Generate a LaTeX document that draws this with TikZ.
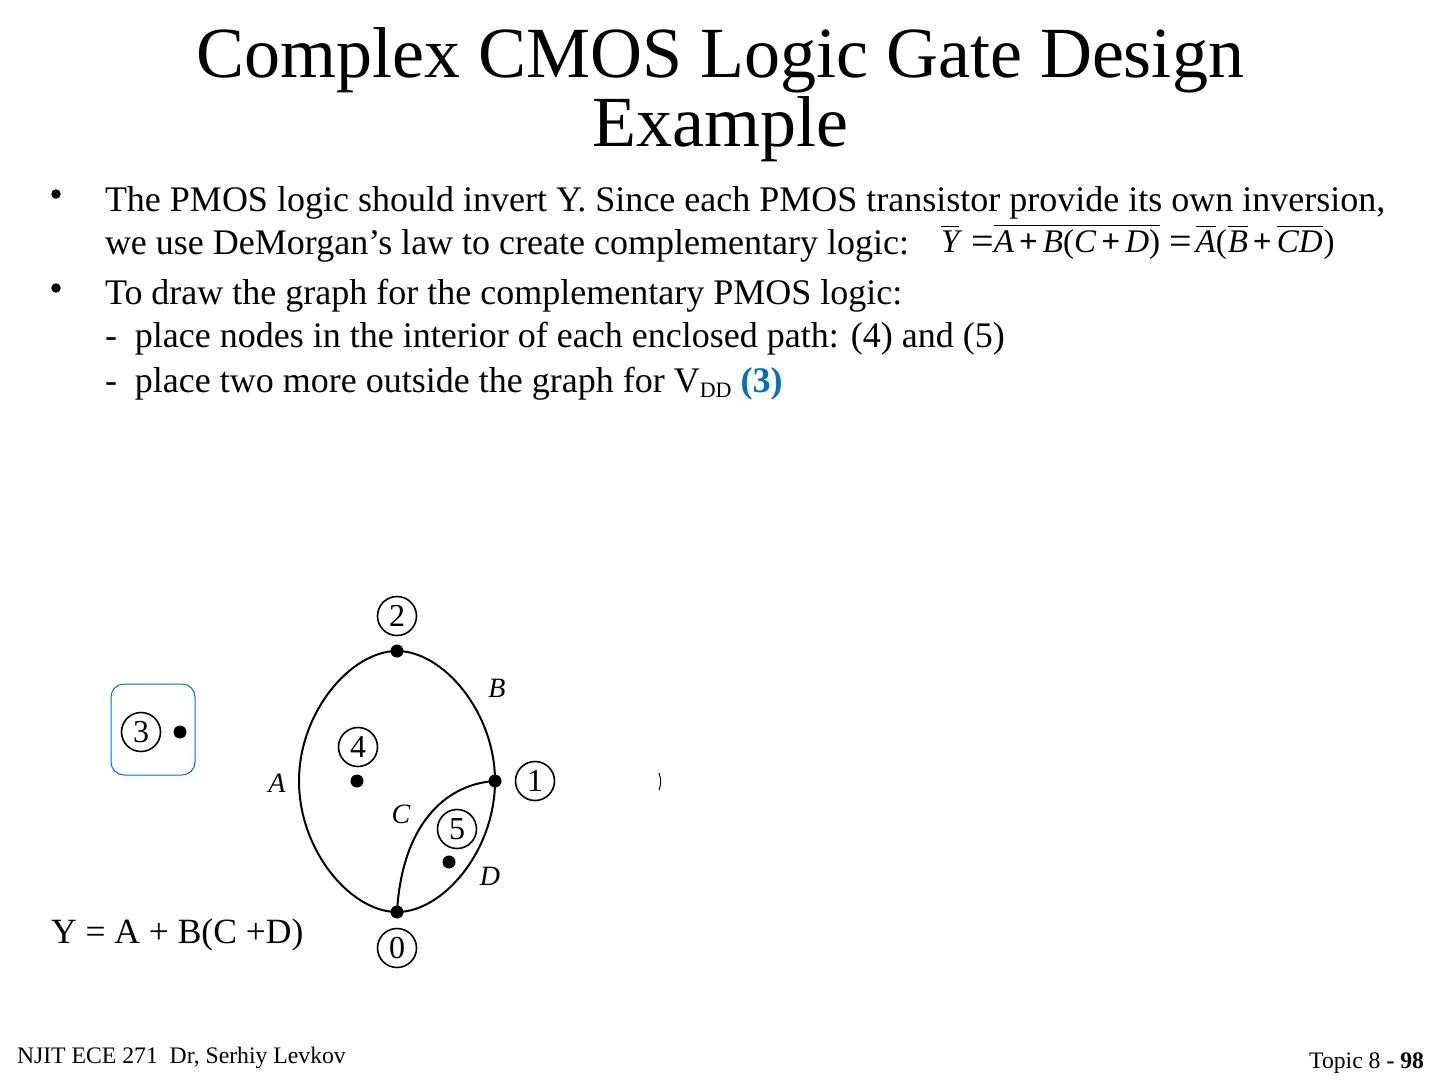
\documentclass[tikz,border=0pt]{standalone}
\usepackage{amsmath}
\usepackage{fontspec}
\setmainfont{Liberation Serif}
\definecolor{boxblue}{HTML}{0070C0}
\newcommand{\ibar}[1]{$\overline{\textit{#1}}$}
\newcommand{\bplus}{\hspace{5pt}\textbf{+}\hspace{5pt}}
\newcommand{\eqsign}{\raisebox{-2pt}{\fontsize{40}{40}\selectfont =}}
\begin{document}
\begin{tikzpicture}[x = 1pt, y = -1pt, line width = 2pt,
                    title/.style = {anchor = base, inner sep = 0pt, font = \fontsize{72}{72}\selectfont},
                    body/.style = {anchor = base west, inner sep = 0pt, font = \fontsize{36}{36}\selectfont},
                    foot/.style = {inner sep = 0pt, font = \fontsize{23.7}{23.7}\selectfont},
                    bullet/.style = {circle, fill = black, inner sep = 0pt, minimum size = 9.5pt},
                    dot/.style = {circle, fill = black, inner sep = 0pt, minimum size = 13pt},
                    num/.style = {circle, draw, inner sep = 0pt, minimum size = 39pt, line width = 1.6pt, font = \fontsize{32}{32}\selectfont},
                    branch/.style = {inner sep = 0pt, font = \fontsize{28}{28}\itshape\selectfont}]
\useasboundingbox (0,0) rectangle (1440,1080);

% title
\node[title] (title1) at (720,77) {Complex CMOS Logic Gate Design};
\node[title] (title2) at (720,146) {Example};

% bullets
\node[bullet] (b1) at (56,194) {};
\node[bullet] (b2) at (56,288) {};

% body text
\node[body] (line1) at (104,211) {The PMOS logic should invert Y. Since each PMOS transistor provide its own inversion,};
\node[body] (line2) at (104,254) {we use DeMorgan’s law to create complementary logic:};
\node[body] (line3) at (104,304) {To draw the graph for the complementary PMOS logic:};
\node[body] (line4) at (104,347) {-\ \ place nodes in the interior of each enclosed path: (4) and (5)};
\node[body] (line5) at (104,392) {-\ \ place two more outside the graph for V\raisebox{-5pt}{\fontsize{22}{22}\selectfont DD} \textcolor{boxblue}{\textbf{(3)}}};

% equation
\node[body, font = \fontsize{33}{33}\selectfont] (eqn) at (940,252) {\ibar{Y}\hspace{12pt}\eqsign\hspace{0pt}$\overline{\text{\textit{A}\bplus\textit{B}(\textit{C}\bplus\textit{D})}}$\hspace{9pt}\eqsign\hspace{4pt}\ibar{A}(\hspace{1pt}\ibar{B}\bplus\ibar{C}\ibar{D}\hspace{1pt})};

% VDD node
\node[draw = boxblue, rounded corners = 13pt, line width = 1pt, minimum width = 84pt, minimum height = 91pt] (box3) at (153,729.5) {};
\node[num] (n3) at (141,732) {3};
\node[dot] (d3) at (180,732) {};

% graph
\node[dot] (d2) at (397,651) {};
\node[dot] (d1) at (495,781) {};
\node[dot] (d0) at (397,912) {};
\node[dot] (d4) at (357,781) {};
\node[dot] (d5) at (449,862) {};
\coordinate (left) at (299,781);

\node[num] (n2) at (397,616) {2};
\node[num] (n1) at (535,781) {1};
\node[num] (n0) at (397,948) {0};
\node[num] (n4) at (358,747) {4};
\node[num] (n5) at (457,829) {5};

\draw (d2.center) .. controls (351,651) and (299,712) .. (left);
\draw (left) .. controls (299,851) and (351,912) .. (d0.center);
\draw (d2.center) .. controls (443,651) and (495,712) .. (d1.center);
\draw (d1.center) .. controls (495,851) and (443,912) .. (d0.center);
\draw (d1.center) .. controls (445,784) and (402,825) .. (d0.center);

\node[branch] (labB) at (497,688) {B};
\node[branch] (labA) at (277,783) {A};
\node[branch] (labC) at (401,814) {C};
\node[branch] (labD) at (490,876) {D};

% leftover arc beside node 1
\coordinate (arc1) at (659,773);
\coordinate (arc2) at (659,790);
\draw[line width = 1pt] (arc1) to[bend left = 20] (arc2);

\node[anchor = base west, inner sep = 0pt, font = \fontsize{35.5}{35.5}\selectfont] (func) at (50,943) {Y = A + B(C +D)};

% footer
\node[foot, anchor = base west] (footl) at (16,1063) {NJIT ECE 271\ \ Dr, Serhiy Levkov};
\node[foot, anchor = base east] (footr) at (1425,1068) {Topic 8 \textbf{- 98}};
\end{tikzpicture}
\end{document}
